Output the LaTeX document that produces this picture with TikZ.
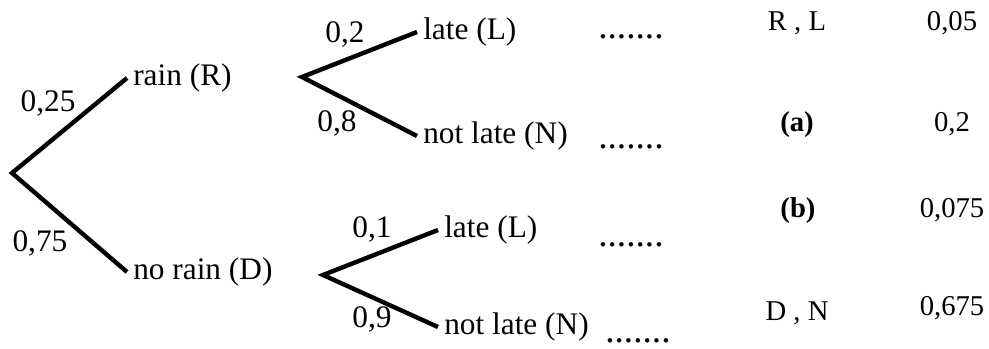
\documentclass[tikz,border=0pt]{standalone}
\usepackage{fontspec}
\setmainfont{Liberation Serif}
\usetikzlibrary{positioning}

\begin{document}
\begin{tikzpicture}[x=0.75pt,y=-0.75pt,
    font=\fontsize{23.5}{28}\selectfont,
    branch/.style={line width=3.3pt, line join=miter},
    leaf/.style={anchor=west, inner xsep=4.5pt, inner ysep=0pt},
    prob/.style={anchor=base, inner sep=0pt},
    dots/.style={anchor=base west, inner sep=0pt, font=\fontsize{28}{32}\selectfont},
    res/.style={anchor=base, inner sep=0pt, font=\fontsize{21.5}{26}\selectfont}]
    \useasboundingbox (0,0) rectangle (989,349);
    % first level
    \coordinate (root) at (12,173);
    \node[leaf] (rain) at (127,78) {rain (R)};
    \node[leaf] (norain) at (127,272) {no rain (D)};
    \draw[branch] (rain.west) -- (root) -- (norain.west);
    \node[prob] (pR) at (48,112) {0,25};
    \node[prob] (pD) at (40,252) {0,75};
    % second level
    \coordinate (forkR) at (302,77);
    \coordinate (forkD) at (323,275);
    \node[leaf] (lateR) at (417,32) {late (L)};
    \node[leaf] (notlateR) at (417,136) {not late (N)};
    \node[leaf] (lateD) at (438,230) {late (L)};
    \node[leaf] (notlateD) at (438,327) {not late (N)};
    \draw[branch] (lateR.west) -- (forkR) -- (notlateR.west);
    \draw[branch] (lateD.west) -- (forkD) -- (notlateD.west);
    \node[prob] (pRL) at (345,43) {0,2};
    \node[prob] (pRN) at (337,132) {0,8};
    \node[prob] (pDL) at (372,238) {0,1};
    \node[prob] (pDN) at (372,327) {0,9};
    % blanks
    \node[dots] (dRL) at (598,39) {.......};
    \node[dots] (dRN) at (598,149) {.......};
    \node[dots] (dDL) at (598,247) {.......};
    \node[dots] (dDN) at (605,342) {.......};
    % results
    \node[res] (eRL) at (797,31) {R , L};
    \node[res] (vRL) at (952,31) {0,05};
    \node[res] (eRN) at (797,132) {\textbf{(a)}};
    \node[res] (vRN) at (952,132) {0,2};
    \node[res] (eDL) at (798,218) {\textbf{(b)}};
    \node[res] (vDL) at (952,218) {0,075};
    \node[res] (eDN) at (797,320) {D , N};
    \node[res] (vDN) at (952,315) {0,675};
\end{tikzpicture}
\end{document}
